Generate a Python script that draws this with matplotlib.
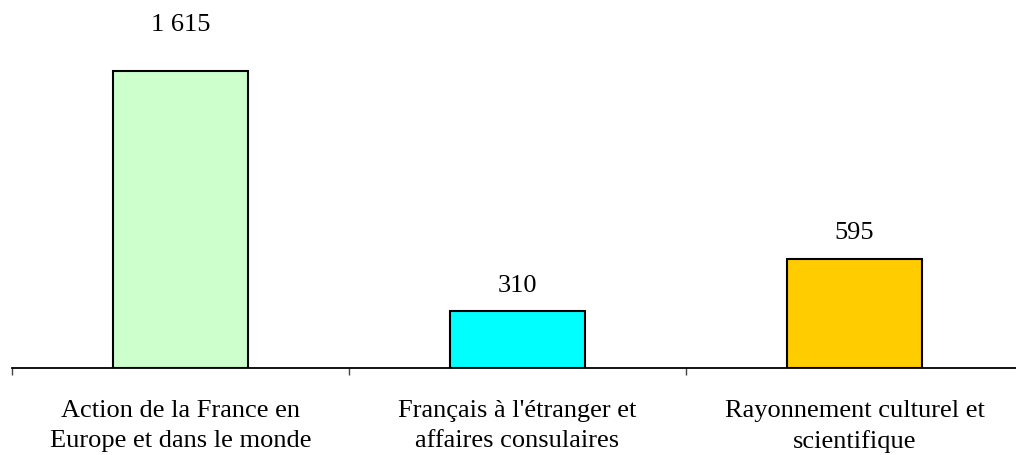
import matplotlib.pyplot as plt
import numpy as np

categories = ["Action de la France en\nEurope et dans le monde",
              "Français à l'étranger et\naffaires consulaires",
              "Rayonnement culturel et\nscientifique"]
values = [1615, 310, 595]
value_labels = ["1 615", "310", "595"]
bar_colors = ["#ccffcc", "#00ffff", "#ffcc00"]
label_offsets = [29, 14, 14]  # points above the bar top

plt.rcParams['font.family'] = ['Liberation Serif', 'DejaVu Serif']

fig = plt.figure(figsize=(10.16, 4.55), dpi=100)
ax = fig.add_axes([12 / 1016, 87 / 455, 1011 / 1016, 368 / 455])

x = np.arange(len(categories))
bars = ax.bar(x, values, width=0.4, color=bar_colors, edgecolor='black', linewidth=1.5, zorder=3)

for xi, v, lab, off in zip(x, values, value_labels, label_offsets):
    ax.annotate(lab, (xi, v), xytext=(0, off), textcoords='offset points',
                ha='center', va='baseline', fontsize=19)

ax.set_xlim(-0.5, 2.5)
ax.set_ylim(0, 2000)

for s in ['top', 'right', 'left']:
    ax.spines[s].set_visible(False)
ax.spines['bottom'].set_linewidth(1.3)
ax.set_yticks([])

# tick marks at category boundaries, labels at category centres
ax.set_xticks([-0.5, 0.5, 1.5, 2.5])
ax.set_xticklabels([])
ax.tick_params(axis='x', which='major', direction='out', length=5, width=1, colors='#444444')
ax.set_xticks(x, minor=True)
ax.set_xticklabels(categories, minor=True, fontsize=19, linespacing=1.47)
ax.tick_params(axis='x', which='minor', length=0, pad=23)

fig.savefig('out.png', dpi=100)
